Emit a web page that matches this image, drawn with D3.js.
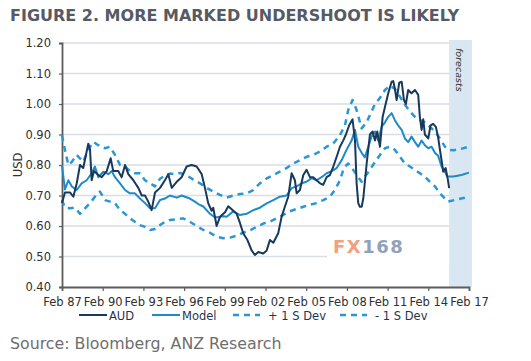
<!DOCTYPE html>
<html>
<head>
<meta charset="utf-8">
<script src="https://cdn.jsdelivr.net/npm/d3@7"></script>
<style>
  body { margin: 0; background: #fff; }
  svg { display: block; font-family: "DejaVu Sans", Verdana, sans-serif; }
</style>
</head>
<body>
<div id="chart"></div>
<script>
// AUD spot (decimal year, USD)
var audYears = [1987.08,1987.30,1987.67,1987.92,1988.17,1988.41,1988.65,1989.02,1989.15,1989.27,
  1989.44,1989.76,1990.01,1990.38,1990.67,1990.86,1991.23,1991.48,1991.73,1991.97,
  1992.34,1992.71,1992.96,1993.20,1993.44,1993.69,1993.94,1994.31,1994.67,1994.92,
  1995.17,1995.54,1995.90,1996.27,1996.64,1997.01,1997.38,1997.62,1997.86,1998.11,
  1998.23,1998.48,1998.73,1999.10,1999.34,1999.71,1999.96,2000.20,2000.44,2000.74,
  2001.06,2001.30,2001.55,2001.92,2002.17,2002.41,2002.66,2003.02,2003.27,2003.51,
  2003.76,2004.01,2004.25,2004.38,2004.62,2004.87,2005.11,2005.36,2005.60,2005.85,
  2006.10,2006.34,2006.59,2006.83,2007.08,2007.33,2007.57,2007.81,2008.01,2008.25,
  2008.50,2008.68,2008.80,2008.92,2009.04,2009.17,2009.29,2009.54,2009.78,2009.98,
  2010.15,2010.32,2010.52,2010.72,2010.89,2011.13,2011.38,2011.50,2011.62,2011.75,
  2011.94,2012.12,2012.29,2012.43,2012.60,2012.85,2013.10,2013.34,2013.46,2013.59,
  2013.71,2013.83,2014.08,2014.25,2014.44,2014.64,2014.81,2014.94,2015.06,2015.18,
  2015.36,2015.51,2015.62];
var audValues = [0.675,0.71,0.71,0.696,0.74,0.80,0.79,0.87,0.85,0.75,
  0.78,0.767,0.76,0.78,0.822,0.78,0.78,0.76,0.80,0.77,
  0.75,0.725,0.70,0.70,0.68,0.652,0.71,0.725,0.75,0.77,
  0.725,0.745,0.76,0.795,0.80,0.795,0.77,0.725,0.675,0.65,
  0.66,0.60,0.63,0.645,0.665,0.65,0.64,0.61,0.576,0.555,
  0.52,0.505,0.515,0.51,0.52,0.554,0.545,0.576,0.63,0.663,
  0.696,0.773,0.75,0.707,0.718,0.767,0.784,0.76,0.76,0.75,
  0.74,0.735,0.76,0.767,0.795,0.827,0.86,0.88,0.90,0.93,
  0.95,0.88,0.74,0.675,0.663,0.663,0.69,0.805,0.90,0.91,
  0.88,0.91,0.86,0.958,0.99,1.035,1.073,1.075,1.05,1.013,
  1.07,1.073,1.013,1.0,1.046,1.035,1.046,1.03,0.958,0.915,
  0.95,0.90,0.887,0.93,0.935,0.925,0.89,0.85,0.816,0.778,
  0.79,0.756,0.724];

// fair value model, incl. forecasts to Feb 17
var modelYears = [1987.08,1987.30,1987.55,1987.80,1988.17,1988.53,1988.90,1989.27,1989.51,1989.76,
  1990.13,1990.50,1990.75,1990.99,1991.36,1991.73,1992.09,1992.46,1992.83,1993.20,
  1993.57,1993.94,1994.31,1994.67,1995.04,1995.54,1995.90,1996.15,1996.51,1996.88,
  1997.13,1997.50,1997.99,1998.36,1998.73,1998.97,1999.22,1999.71,2000.20,2000.69,
  2001.18,2001.67,2002.17,2002.66,2003.14,2003.64,2004.01,2004.38,2004.75,2005.11,
  2005.48,2005.85,2006.22,2006.59,2006.96,2007.33,2007.70,2008.06,2008.43,2008.68,
  2008.92,2009.17,2009.41,2009.66,2009.90,2010.15,2010.39,2010.64,2010.89,2011.13,
  2011.38,2011.62,2011.86,2012.12,2012.36,2012.60,2012.85,2013.10,2013.34,2013.59,
  2013.83,2014.08,2014.33,2014.57,2014.81,2015.06,2015.31,2015.48,2015.67,2015.92,
  2016.25,2016.58,2017.08];
var modelValues = [0.80,0.72,0.75,0.73,0.718,0.74,0.75,0.773,0.795,0.76,
  0.778,0.77,0.78,0.76,0.74,0.718,0.707,0.707,0.69,0.675,
  0.658,0.658,0.685,0.69,0.70,0.693,0.70,0.696,0.69,0.68,
  0.672,0.664,0.64,0.628,0.63,0.632,0.63,0.648,0.636,0.64,
  0.652,0.66,0.674,0.685,0.696,0.70,0.724,0.73,0.74,0.745,
  0.757,0.75,0.76,0.773,0.78,0.79,0.816,0.85,0.88,0.915,
  0.86,0.84,0.825,0.86,0.893,0.91,0.88,0.925,0.94,0.958,
  0.97,0.947,0.93,0.915,0.887,0.875,0.893,0.875,0.86,0.88,
  0.865,0.855,0.86,0.84,0.83,0.795,0.778,0.762,0.762,0.762,
  0.765,0.768,0.775];

// model + 1 standard deviation
var upperYears = [1987.08,1987.30,1987.55,1987.80,1988.17,1988.65,1989.02,1989.39,1989.76,1990.25,
  1990.62,1990.99,1991.36,1991.73,1992.09,1992.46,1992.83,1993.20,1993.57,1993.94,
  1994.31,1994.67,1995.04,1995.41,1995.78,1996.27,1996.76,1997.25,1997.75,1998.23,
  1998.73,1999.22,1999.71,2000.20,2000.69,2001.18,2001.67,2002.17,2002.66,2003.14,
  2003.64,2004.13,2004.62,2005.11,2005.60,2006.10,2006.59,2007.08,2007.57,2007.94,
  2008.18,2008.50,2008.80,2009.17,2009.54,2009.78,2010.15,2010.52,2010.89,2011.25,
  2011.62,2011.99,2012.36,2012.73,2013.10,2013.46,2013.83,2014.20,2014.57,2014.94,
  2015.31,2015.55,2015.92,2016.50,2017.08];
var upperValues = [0.898,0.85,0.80,0.81,0.833,0.81,0.85,0.876,0.865,0.855,
  0.86,0.833,0.80,0.795,0.78,0.773,0.773,0.75,0.74,0.73,
  0.755,0.765,0.772,0.77,0.774,0.766,0.752,0.74,0.725,0.713,
  0.702,0.693,0.70,0.705,0.707,0.718,0.74,0.756,0.767,0.778,
  0.79,0.805,0.816,0.827,0.833,0.844,0.86,0.87,0.898,0.93,
  0.98,1.013,0.98,0.92,0.94,0.964,1.0,1.02,1.046,1.06,
  1.05,1.024,0.998,0.975,0.958,0.947,0.94,0.925,0.91,0.887,
  0.86,0.85,0.848,0.853,0.86];

// model - 1 standard deviation
var lowerYears = [1987.08,1987.30,1987.67,1988.04,1988.41,1988.78,1989.15,1989.51,1989.88,1990.25,
  1990.62,1990.99,1991.36,1991.73,1992.09,1992.46,1992.83,1993.20,1993.57,1993.94,
  1994.31,1994.67,1995.04,1995.54,1996.02,1996.51,1997.01,1997.50,1997.99,1998.48,
  1998.97,1999.46,1999.96,2000.44,2000.93,2001.42,2001.92,2002.41,2002.90,2003.39,
  2003.88,2004.38,2004.87,2005.36,2005.85,2006.34,2006.83,2007.20,2007.57,2007.86,
  2008.18,2008.55,2008.92,2009.17,2009.41,2009.78,2010.15,2010.52,2010.89,2011.25,
  2011.62,2011.99,2012.36,2012.73,2013.10,2013.46,2013.83,2014.20,2014.57,2014.94,
  2015.31,2015.55,2015.92,2016.50,2017.08];
var lowerValues = [0.685,0.66,0.658,0.66,0.64,0.658,0.675,0.696,0.713,0.685,
  0.68,0.675,0.652,0.64,0.625,0.614,0.603,0.597,0.587,0.59,
  0.603,0.614,0.62,0.622,0.625,0.614,0.60,0.587,0.578,0.565,
  0.56,0.562,0.568,0.578,0.586,0.597,0.608,0.614,0.625,0.636,
  0.648,0.656,0.663,0.67,0.675,0.685,0.696,0.718,0.75,0.79,
  0.805,0.784,0.76,0.745,0.762,0.784,0.81,0.833,0.855,0.86,
  0.85,0.827,0.805,0.795,0.784,0.773,0.762,0.745,0.73,0.707,
  0.69,0.68,0.684,0.69,0.696];

var xTickYears = [1987,1990,1993,1996,1999,2002,2005,2008,2011,2014,2017];
var xTickLabels = ["Feb 87","Feb 90","Feb 93","Feb 96","Feb 99","Feb 02","Feb 05","Feb 08","Feb 11","Feb 14","Feb 17"];
var yTicks = [0.40,0.50,0.60,0.70,0.80,0.90,1.00,1.10,1.20];
var seriesNames = ["AUD","Model","+ 1 S Dev","- 1 S Dev"];
var forecastStart = 2015.62, forecastEnd = 2017.3;

var width = 531, height = 361;
var svg = d3.select("#chart").append("svg").attr("width", width).attr("height", height);

var x = d3.scaleLinear().domain([1987 + 1/12, 2017 + 1/12]).range([62, 469]);
var y = d3.scaleLinear().domain([0.4, 1.2]).range([287, 43]);

// title
svg.append("text").attr("x", 10).attr("y", 21)
  .style("font-size", "16px").style("font-weight", "bold").style("fill", "#565a64")
  .text("FIGURE 2. MORE MARKED UNDERSHOOT IS LIKELY");

// forecast shading
svg.append("rect")
  .attr("x", x(forecastStart)).attr("y", 40)
  .attr("width", x(forecastEnd) - x(forecastStart)).attr("height", y(0.4) - 40)
  .style("fill", "#d8e7f1");

// gridlines
svg.append("g").selectAll("line").data(yTicks.slice(1)).enter().append("line")
  .attr("x1", x.range()[0]).attr("x2", x(forecastStart))
  .attr("y1", function(d) { return y(d); }).attr("y2", function(d) { return y(d); })
  .style("stroke", "#d9dde4").style("stroke-width", 1.5);

// watermark box hides part of the grid
svg.append("rect").attr("x", 327).attr("y", 233).attr("width", x(forecastStart) - 327).attr("height", 30)
  .style("fill", "#fff");
var wm = svg.append("text").attr("x", 333).attr("y", 253)
  .style("font-size", "18px").style("font-weight", "bold").style("letter-spacing", "1.5px");
wm.append("tspan").style("fill", "#f3a07e").text("FX");
wm.append("tspan").style("fill", "#8fa2ba").text("168");

// y axis
var yAxis = svg.append("g").attr("transform", "translate(" + x.range()[0] + ",0)")
  .call(d3.axisLeft(y).tickValues(yTicks).tickFormat(d3.format(".2f")).tickSize(3).tickPadding(8));
// x axis
var xAxis = svg.append("g").attr("transform", "translate(0," + y(0.4) + ")")
  .call(d3.axisBottom(x).tickValues(xTickYears.map(function(d) { return d + 1/12; }))
    .tickFormat(function(d, i) { return xTickLabels[i]; }).tickSize(4).tickPadding(7));

[yAxis, xAxis].forEach(function(ax) {
  ax.select(".domain").style("stroke", "#5c5c5c").style("stroke-width", 1.8);
  ax.selectAll(".tick line").style("stroke", "#5c5c5c").style("stroke-width", 1.2);
  ax.selectAll(".tick text").style("font-family", "DejaVu Sans").style("font-size", "11.5px").style("fill", "#2f2f2f");
});
xAxis.selectAll(".tick").filter(function(d, i) { return i === 0; }).select("line").remove();

svg.append("text").attr("transform", "translate(22,165) rotate(-90)")
  .attr("text-anchor", "middle").style("font-size", "11.5px").style("fill", "#2f2f2f").text("USD");

svg.append("text").attr("transform", "translate(456,48) rotate(90)")
  .style("font-size", "9.5px").style("font-style", "italic").style("fill", "#333").text("forecasts");

// series
var line = d3.line().x(function(d) { return x(d[0]); }).y(function(d) { return y(d[1]); });
var series = [
  { data: d3.zip(audYears, audValues), color: "#18395c", width: 2, dash: null },
  { data: d3.zip(modelYears, modelValues), color: "#1e8bc8", width: 2, dash: null },
  { data: d3.zip(upperYears, upperValues), color: "#2a97d4", width: 2.5, dash: "6,5" },
  { data: d3.zip(lowerYears, lowerValues), color: "#2a97d4", width: 2.5, dash: "6,5" }
];
// draw bands first, then model, then AUD on top
[2, 3, 1, 0].forEach(function(i) {
  var s = series[i];
  svg.append("path").datum(s.data).attr("d", line)
    .style("fill", "none").style("stroke", s.color).style("stroke-width", s.width)
    .style("stroke-dasharray", s.dash).style("stroke-linejoin", "round");
});

// legend
var legendX = [79, 152, 233, 340];
var legend = svg.append("g").selectAll("g").data(seriesNames).enter().append("g")
  .attr("transform", function(d, i) { return "translate(" + legendX[i] + ",315)"; });
legend.append("line").attr("x1", 0).attr("x2", function(d, i) { return i < 2 ? 28 : 27; })
  .style("stroke", function(d, i) { return series[i].color; })
  .style("stroke-width", function(d, i) { return series[i].width; })
  .style("stroke-dasharray", function(d, i) { return series[i].dash; });
legend.append("text").attr("x", function(d, i) { return i < 2 ? 30 : 35; }).attr("y", 4.5)
  .style("font-size", "11.5px").style("fill", "#1f3550").text(function(d) { return d; });

// source
svg.append("text").attr("x", 10).attr("y", 349)
  .style("font-size", "15.8px").style("fill", "#6e6e6e").text("Source: Bloomberg, ANZ Research");
</script>
</body>
</html>
